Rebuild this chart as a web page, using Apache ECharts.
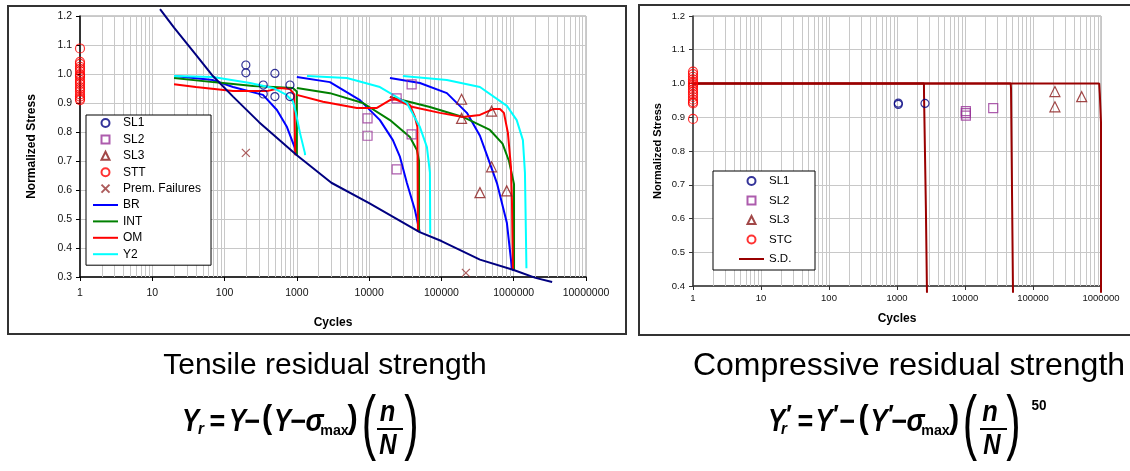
<!DOCTYPE html>
<html><head><meta charset="utf-8">
<script src="https://cdn.jsdelivr.net/npm/echarts/dist/echarts.min.js"></script>
<style>html,body{margin:0;padding:0;background:#fff}#c{width:1130px;height:471px}</style>
</head><body><div id="c"></div>
<script>
// ---------- tick labels ----------
const xTickLabelsLeft = ['1','10','100','1000','10000','100000','1000000','10000000'];
const xTickLabelsRight = ['1','10','100','1000','10000','100000','1000000'];
const yTickLabelsLeft = ['0.3','0.4','0.5','0.6','0.7','0.8','0.9','1.0','1.1','1.2'];
const yTickLabelsRight = ['0.4','0.5','0.6','0.7','0.8','0.9','1.0','1.1','1.2'];

// ---------- left chart (tensile) : test data ----------
const sl1Cycles = [197, 197, 343, 343, 497, 497, 803, 803];
const sl1Stress = [1.031, 1.004, 0.962, 0.931, 1.002, 0.922, 0.962, 0.922];
const sl2Cycles = [9500, 9500, 24000, 24000, 38700, 38700];
const sl2Stress = [0.847, 0.787, 0.916, 0.671, 0.964, 0.792];
const sl3Cycles = [190000, 190000, 494000, 494000, 341000, 800000];
const sl3Stress = [0.913, 0.847, 0.872, 0.680, 0.591, 0.597];
const sttStress = [1.088, 1.042, 1.035, 1.025, 1.018, 1.01, 1.0, 0.995, 0.99, 0.98, 0.972, 0.965, 0.955, 0.948, 0.94, 0.93, 0.922, 0.915, 0.91];
const premCycles = [197, 218000];
const premStress = [0.728, 0.314];

// S-N curve (navy)
const snCurve = [[12.8,1.224],[20,1.16],[40,1.067],[69,0.993],[131,0.922],[300,0.834],[1000,0.72],[3000,0.625],[10000,0.555],[50000,0.455],[100000,0.424],[341000,0.36],[1000000,0.324],[2000000,0.297],[3400000,0.283]];

// model curves, three stress levels each
const br1 = [[20,0.993],[69,0.979],[131,0.955],[340,0.928],[530,0.876],[730,0.817],[930,0.748],[1000,0.72]];
const br2 = [[1000,0.99],[2870,0.972],[7460,0.91],[14100,0.841],[21300,0.772],[26700,0.714],[33300,0.624],[43000,0.531],[50000,0.455]];
const br3 = [[19400,0.986],[50400,0.969],[119000,0.934],[225000,0.866],[341000,0.787],[426000,0.72],[586000,0.624],[805000,0.486],[945000,0.33],[1000000,0.322]];
const int1 = [[20,0.986],[69,0.972],[250,0.959],[880,0.952],[1000,0.94],[1000,0.72]];
const int2 = [[1000,0.952],[2870,0.934],[8210,0.9],[19400,0.841],[36600,0.783],[45800,0.738],[49000,0.7],[49000,0.455]];
const int3 = [[19400,0.921],[69300,0.886],[198000,0.852],[469000,0.807],[700000,0.76],[860000,0.70],[1010000,0.62],[1010000,0.322]];
const om1 = [[20,0.965],[40,0.955],[131,0.941],[386,0.941],[584,0.952],[803,0.948],[920,0.93],[950,0.72]];
const om2 = [[1000,0.928],[2300,0.904],[6780,0.883],[12800,0.883],[19400,0.91],[26700,0.914],[36600,0.893],[43000,0.852],[46500,0.817],[47300,0.455]];
const om3 = [[19400,0.921],[40300,0.886],[95300,0.866],[198000,0.852],[341000,0.859],[516000,0.879],[645000,0.879],[732000,0.866],[831000,0.797],[915000,0.68],[945000,0.566],[975000,0.324]];
const y2c1 = [[20,0.993],[69,0.99],[225,0.969],[467,0.952],[700,0.93],[884,0.905],[970,0.866],[1104,0.797],[1290,0.728],[1300,0.72]];
const y2c2 = [[1380,0.993],[4930,0.986],[14100,0.955],[33300,0.9],[50400,0.817],[63000,0.748],[69300,0.66],[70000,0.45]];
const y2c3 = [[29300,0.993],[119000,0.979],[341000,0.955],[805000,0.89],[1100000,0.841],[1340000,0.772],[1430000,0.66],[1470000,0.47],[1500000,0.33]];

// ---------- right chart (compressive) ----------
const cSl1Cycles = [1045, 1045, 2580];
const cSl1Stress = [0.938, 0.942, 0.941];
const cSl2Cycles = [10300, 10300, 10300, 26000];
const cSl2Stress = [0.905, 0.912, 0.918, 0.927];
const cSl3Cycles = [210000, 210000, 520000];
const cSl3Stress = [0.976, 0.931, 0.961];
const stcStress = [1.035, 1.028, 1.02, 1.012, 1.005, 1.0, 0.995, 0.99, 0.982, 0.975, 0.968, 0.96, 0.952, 0.945, 0.941, 0.895];
const sd1 = [[1,1.0],[2490,1.0],[2500,0.96],[2650,0.955],[2660,0.63],[2760,0.625],[2760,0.38]];
const sd2 = [[1,1.0],[47000,1.0],[47500,0.985],[50800,0.985],[50800,0.38]];
const sd3 = [[1,1.0],[940000,1.0],[960000,0.97],[990000,0.965],[1000000,0.885],[1000000,0.38]];

// ---------- helpers ----------
const FONT = '"Liberation Sans", Arial, sans-serif';
const zip = (xs, ys) => xs.map((x, i) => [x, ys[i]]);
function minorGrid(maxDecade) {
  const out = [];
  for (let d = 1; d < maxDecade; d *= 10) for (let m = 2; m <= 9; m++) out.push({xAxis: m * d});
  return out;
}
function gridSeries(gi, maxDecade) {
  return {type:'line', name:'_grid' + gi, xAxisIndex:gi, yAxisIndex:gi, data:[], silent:true, z:1,
    markLine:{z:1, silent:true, symbol:['none','none'], animation:false, label:{show:false},
      lineStyle:{color:'#c8c8c8', width:1, type:'solid'}, emphasis:{disabled:true},
      data: minorGrid(maxDecade)}};
}
function line(name, data, color, gi, width, z) {
  return {type:'line', name, data, xAxisIndex:gi, yAxisIndex:gi, symbol:'none', showSymbol:false,
    clip:false, z: z || 3, lineStyle:{color, width: width || 2}, itemStyle:{color}, emphasis:{disabled:true}};
}
function scatter(name, data, symbol, size, color, gi) {
  return {type:'scatter', name, data, xAxisIndex:gi, yAxisIndex:gi, symbol, symbolSize:size, z:5,
    itemStyle:{color:'rgba(0,0,0,0)', borderColor:color, borderWidth:1.2}, emphasis:{disabled:true}};
}
const X_PATH = 'path://M0,0L10,10M10,0L0,10';
const SQ_PATH = 'path://M0,0H10V10H0Z';
const TRI_PATH = 'path://M5,0L10,10H0Z';
const lineItem = name => ({name, itemStyle:{opacity:0}});

function xAxis(gi, max, labels, nameGap, margin, fs, axisColor) {
  return {type:'log', logBase:10, gridIndex:gi, min:1, max,
    name:'Cycles', nameLocation:'middle', nameGap,
    nameTextStyle:{fontWeight:'bold', fontSize:12, color:'#000', fontFamily:FONT},
    axisLine:{show:true, onZero:false, lineStyle:{color:axisColor, width:1.5}},
    axisTick:{show:true, length:4, lineStyle:{color:axisColor}},
    axisLabel:{margin, fontSize:fs, color:'#111', fontFamily:FONT,
      formatter: v => labels[Math.round(Math.log10(v))]},
    splitLine:{show:true, lineStyle:{color:'#c8c8c8', width:1}}};
}
function yAxis(gi, min, labels, nameGap, fs, nfs, axisColor) {
  return {type:'value', gridIndex:gi, min, max:1.2, interval:0.1,
    name:'Normalized Stress', nameLocation:'middle', nameGap,
    nameTextStyle:{fontWeight:'bold', fontSize:nfs, color:'#000', fontFamily:FONT},
    axisLine:{show:true, onZero:false, lineStyle:{color:axisColor, width:1.5}},
    axisTick:{show:true, length:4, lineStyle:{color:axisColor}},
    axisLabel:{margin:8, fontSize:fs, color:'#111', fontFamily:FONT,
      formatter: v => labels[Math.round((v - min) * 10)]},
    splitLine:{show:true, lineStyle:{color:'#c8c8c8', width:1}}};
}

// formula / caption text pieces (decoration)
function T(text, x, y, size, weight, style, sx) {
  return {type:'text', x, y, scaleX: sx || 1, silent:true, z:10,
    style:{text, fill:'#000', font: (style||'normal') + ' ' + (weight||'normal') + ' ' + size + 'px ' + FONT,
      align:'center', verticalAlign:'middle', textAlign:'center', textVerticalAlign:'middle'}};
}
const FY = 16; // vertical offset of formula row
const leftFormula = [
  T('Y', 190.5, 406+FY, 32, 'bold', 'italic', 0.8),
  T('r', 201, 413+FY, 17, 'bold', 'italic', 0.9),
  T('=', 217.5, 407+FY, 30, 'bold', 'normal', 0.9),
  T('Y', 237.5, 406+FY, 32, 'bold', 'italic', 0.8),
  T('\u2212', 252.5, 407+FY, 30, 'bold', 'normal', 0.9),
  T('(', 267, 403+FY, 34, 'bold', 'normal', 0.9),
  T('Y', 282.5, 406+FY, 32, 'bold', 'italic', 0.8),
  T('\u2212', 298.5, 407+FY, 30, 'bold', 'normal', 0.9),
  T('\u03C3', 314.5, 406+FY, 32, 'bold', 'italic', 0.85),
  T('max', 334.5, 414.8+FY, 15, 'bold', 'normal', 0.95),
  T(')', 352.5, 403+FY, 34, 'bold', 'normal', 0.9),
  T('(', 369, 410+FY, 72, 'normal', 'normal', 0.6),
  T('n', 387.5, 396.6+FY, 30, 'bold', 'italic', 0.85),
  {type:'line', silent:true, z:10, shape:{x1:377, y1:413+FY, x2:403, y2:413+FY}, style:{stroke:'#000', lineWidth:2}},
  T('N', 388, 429.6+FY, 30, 'bold', 'italic', 0.8),
  T(')', 411.5, 410+FY, 72, 'normal', 'normal', 0.6)
];
const rightFormula = [
  T('Y', 776.5, 406+FY, 32, 'bold', 'italic', 0.8),
  T('\u2032', 789, 400+FY, 26, 'bold', 'normal', 0.9),
  T('r', 784, 413+FY, 17, 'bold', 'italic', 0.9),
  T('=', 805.5, 407+FY, 30, 'bold', 'normal', 0.9),
  T('Y', 824, 406+FY, 32, 'bold', 'italic', 0.8),
  T('\u2032', 836, 400+FY, 26, 'bold', 'normal', 0.9),
  T('\u2212', 847.5, 407+FY, 30, 'bold', 'normal', 0.9),
  T('(', 863.5, 403+FY, 34, 'bold', 'normal', 0.9),
  T('Y', 879, 406+FY, 32, 'bold', 'italic', 0.8),
  T('\u2032', 891, 400+FY, 26, 'bold', 'normal', 0.9),
  T('\u2212', 899.5, 407+FY, 30, 'bold', 'normal', 0.9),
  T('\u03C3', 915.5, 406+FY, 32, 'bold', 'italic', 0.85),
  T('max', 935.5, 414.8+FY, 15, 'bold', 'normal', 0.95),
  T(')', 954, 403+FY, 34, 'bold', 'normal', 0.9),
  T('(', 970, 410+FY, 72, 'normal', 'normal', 0.6),
  T('n', 990, 396.6+FY, 30, 'bold', 'italic', 0.85),
  {type:'line', silent:true, z:10, shape:{x1:980, y1:413+FY, x2:1007, y2:413+FY}, style:{stroke:'#000', lineWidth:2}},
  T('N', 992, 429.6+FY, 30, 'bold', 'italic', 0.8),
  T(')', 1013.5, 410+FY, 72, 'normal', 'normal', 0.6),
  T('50', 1039, 406, 15, 'bold', 'normal', 0.9)
];

const chart = echarts.init(document.getElementById('c'), null, {renderer:'canvas', width:1130, height:471});
const option = {
  animation: false,
  backgroundColor: '#fff',
  textStyle: {fontFamily: FONT},
  grid: [
    {left:80, top:16, width:506, height:261, show:true, backgroundColor:'#fff', borderColor:'#9a9a9a', borderWidth:1},
    {left:693, top:16, width:408, height:270, show:true, backgroundColor:'#fff', borderColor:'#9a9a9a', borderWidth:1}
  ],
  xAxis: [
    xAxis(0, 1e7, xTickLabelsLeft, 40, 11, 10.5, '#000'),
    xAxis(1, 1e6, xTickLabelsRight, 27, 7, 9.5, '#333')
  ],
  yAxis: [
    yAxis(0, 0.3, yTickLabelsLeft, 42, 10.5, 12, '#000'),
    yAxis(1, 0.4, yTickLabelsRight, 30, 9.5, 11, '#333')
  ],
  legend: [
    {data:['SL1', {name:'SL2', icon:SQ_PATH}, {name:'SL3', icon:TRI_PATH}, 'STT', 'Prem. Failures',
           lineItem('BR'), lineItem('INT'), lineItem('OM'), lineItem('Y2')],
     orient:'vertical', left:86, top:115, itemWidth:25, itemHeight:8, itemGap:4.4,
     padding:[2,10,5,6], backgroundColor:'#fff', borderColor:'#000', borderWidth:1, borderRadius:0,
     textStyle:{fontSize:12, color:'#000', fontFamily:FONT}, selectedMode:false, z:6},
    {data:['SL1', {name:'SL2', icon:SQ_PATH}, {name:'SL3', icon:TRI_PATH}, 'STC', lineItem('S.D.')],
     orient:'vertical', left:713, top:171, itemWidth:25, itemHeight:8, itemGap:7.5,
     padding:[4,23,5,25], backgroundColor:'#fff', borderColor:'#000', borderWidth:1, borderRadius:0,
     textStyle:{fontSize:11.5, color:'#000', fontFamily:FONT}, selectedMode:false, z:6}
  ],
  graphic: {elements: [
    {type:'rect', silent:true, z:10, shape:{x:8, y:6, width:618, height:328}, style:{fill:'none', stroke:'#333', lineWidth:2}},
    {type:'rect', silent:true, z:10, shape:{x:639, y:5, width:520, height:330}, style:{fill:'none', stroke:'#333', lineWidth:2}},
    T('Tensile residual strength', 325, 365.6, 30, 'normal', 'normal', 1),
    T('Compressive residual strength', 909, 366, 32, 'normal', 'normal', 1),
    ...leftFormula,
    ...rightFormula
  ]},
  series: [
    gridSeries(0, 1e7),
    line('BR', br1, '#0000ff', 0), line('BR', br2, '#0000ff', 0), line('BR', br3, '#0000ff', 0),
    line('INT', int1, '#008000', 0), line('INT', int2, '#008000', 0), line('INT', int3, '#008000', 0),
    line('OM', om1, '#ff0000', 0), line('OM', om2, '#ff0000', 0), line('OM', om3, '#ff0000', 0),
    line('Y2', y2c1, '#00ffff', 0), line('Y2', y2c2, '#00ffff', 0), line('Y2', y2c3, '#00ffff', 0),
    line('S-N', snCurve, '#000080', 0, 2, 4),
    scatter('SL1', zip(sl1Cycles, sl1Stress), 'circle', 8, '#000080', 0),
    scatter('SL2', zip(sl2Cycles, sl2Stress), 'rect', 9, '#993399', 0),
    scatter('SL3', zip(sl3Cycles, sl3Stress), 'triangle', 10, '#8b1a1a', 0),
    scatter('STT', sttStress.map(v => [1, v]), 'circle', 9, '#ff0000', 0),
    scatter('Prem. Failures', zip(premCycles, premStress), X_PATH, 8, '#993333', 0),

    gridSeries(1, 1e6),
    line('S.D.', sd1, '#990000', 1, 2), line('S.D.', sd2, '#990000', 1, 2), line('S.D.', sd3, '#990000', 1, 2),
    scatter('SL1', zip(cSl1Cycles, cSl1Stress), 'circle', 8, '#000080', 1),
    scatter('SL2', zip(cSl2Cycles, cSl2Stress), 'rect', 9, '#993399', 1),
    scatter('SL3', zip(cSl3Cycles, cSl3Stress), 'triangle', 10, '#8b1a1a', 1),
    scatter('STC', stcStress.map(v => [1, v]), 'circle', 9, '#ff0000', 1)
  ]
};
chart.setOption(option);
</script>
</body></html>
